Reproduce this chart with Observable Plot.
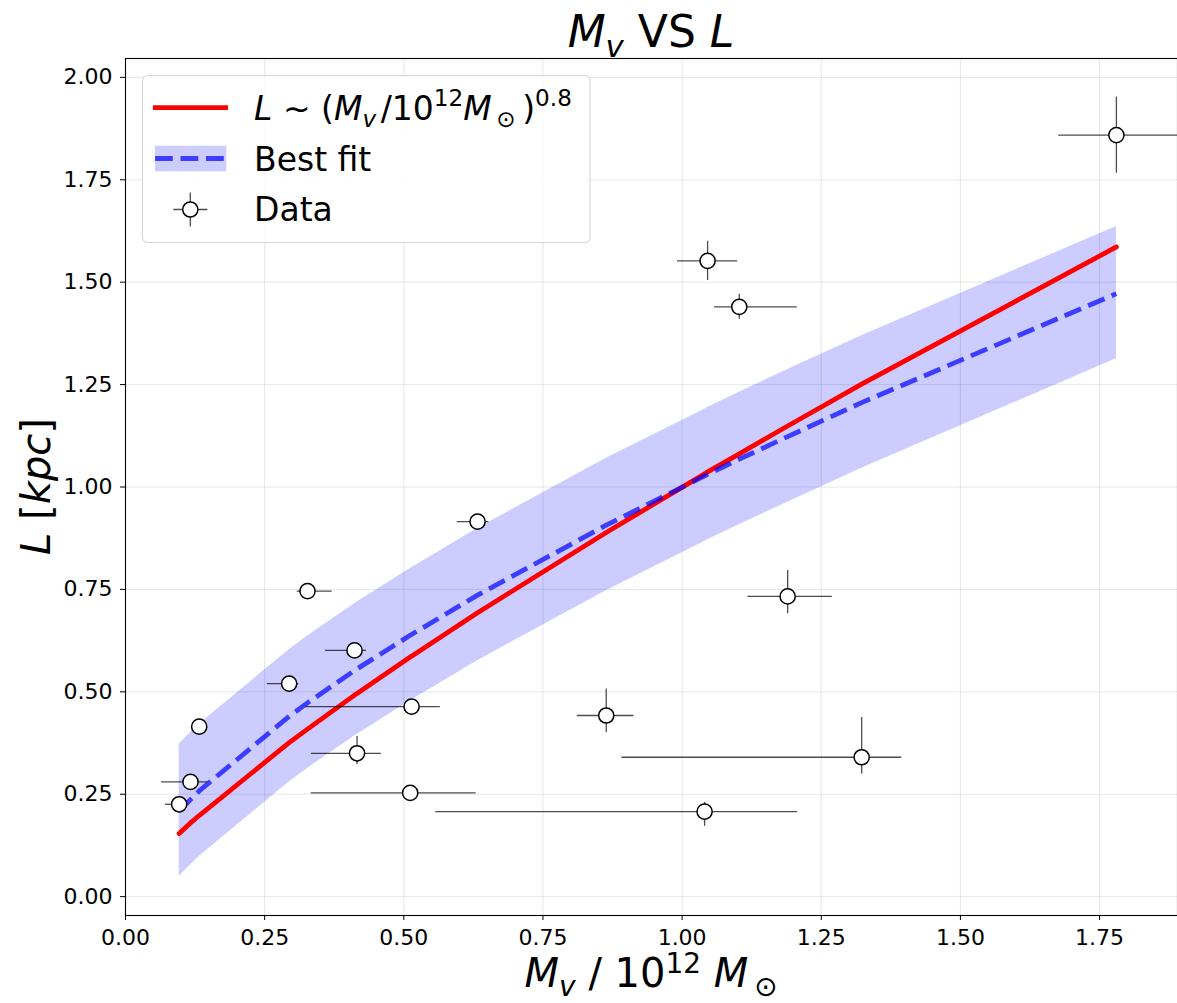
<!DOCTYPE html>
<html>
<head>
<meta charset="utf-8">
<script src="https://cdn.jsdelivr.net/npm/d3@7"></script>
<script src="https://cdn.jsdelivr.net/npm/@observablehq/plot@0.6"></script>
<style>
  body { margin: 0; background: #ffffff; }
  #chart svg { display: block; }
</style>
</head>
<body>
<div id="chart"></div>
<script>
// ---------------- data ----------------
const massX   = [0.0964, 0.1168, 0.1324, 0.294, 0.327, 0.4115, 0.416, 0.514, 0.5115, 0.6325, 0.8637, 1.0404, 1.0458, 1.1027, 1.1896, 1.3226, 1.7802];
const lengthY = [0.2255, 0.280, 0.415, 0.520, 0.746, 0.601, 0.350, 0.464, 0.2533, 0.9155, 0.4422, 0.2077, 1.552, 1.4398, 0.733, 0.3403, 1.859];
const xErrLow  = [0.0246, 0.052, 0.005, 0.039, 0.0185, 0.052, 0.082, 0.190, 0.178, 0.0365, 0.052, 0.483, 0.054, 0.0444, 0.0713, 0.4307, 0.1037];
const xErrHigh = [0.010, 0.031, 0.005, 0.0174, 0.0444, 0.0216, 0.0437, 0.0516, 0.1186, 0.0203, 0.0498, 0.167, 0.054, 0.104, 0.0803, 0.072, 0.140];
const yErrLow  = [0.012, 0.012, 0.010, 0.012, 0.012, 0.012, 0.0276, 0.012, 0.012, 0.012, 0.042, 0.036, 0.048, 0.0305, 0.0423, 0.041, 0.093];
const yErrHigh = [0.012, 0.012, 0.010, 0.012, 0.012, 0.012, 0.041, 0.012, 0.012, 0.012, 0.065, 0.0227, 0.048, 0.0305, 0.0635, 0.097, 0.093];

// model curves, evaluated at the sorted data masses
const curveX    = [0.0964, 0.1168, 0.1324, 0.294, 0.327, 0.4115, 0.416, 0.5115, 0.514, 0.6325, 0.8637, 1.0404, 1.0458, 1.1027, 1.1896, 1.3226, 1.7802];
const powerLaw  = [0.154, 0.180, 0.198, 0.376, 0.409, 0.492, 0.496, 0.585, 0.587, 0.693, 0.889, 1.032, 1.037, 1.081, 1.149, 1.251, 1.586];
const bestFit   = [0.209, 0.237, 0.258, 0.440, 0.473, 0.552, 0.556, 0.638, 0.640, 0.736, 0.907, 1.027, 1.031, 1.068, 1.123, 1.206, 1.472];
const bandLow   = [0.049, 0.077, 0.098, 0.280, 0.313, 0.392, 0.396, 0.478, 0.480, 0.576, 0.747, 0.867, 0.871, 0.908, 0.963, 1.046, 1.313];
const bandHigh  = [0.372, 0.401, 0.421, 0.603, 0.636, 0.715, 0.719, 0.801, 0.803, 0.899, 1.070, 1.190, 1.194, 1.231, 1.287, 1.369, 1.636];

const xTicks = [0, 0.25, 0.5, 0.75, 1.0, 1.25, 1.5, 1.75];
const yTicks = [0, 0.25, 0.5, 0.75, 1.0, 1.25, 1.5, 1.75, 2.0];

// ---------------- tables ----------------
const points = massX.map((x, i) => ({
  x, y: lengthY[i],
  x1: x - xErrLow[i], x2: x + xErrHigh[i],
  y1: lengthY[i] - yErrLow[i], y2: lengthY[i] + yErrHigh[i]
}));
const curve = curveX.map((x, i) => ({x, law: powerLaw[i], fit: bestFit[i], lo: bandLow[i], hi: bandHigh[i]}));

const W = 1177, H = 1003;
const FONT = "DejaVu Sans";
const lw = 4.8, dash = "17.8,7.7";

const chart = Plot.plot({
  width: W, height: H,
  marginLeft: 125, marginRight: 0, marginTop: 58, marginBottom: 88,
  style: {fontFamily: FONT, fontSize: "22px", color: "black", background: "white", overflow: "visible"},
  x: {domain: [0, 1.89], label: null},
  y: {domain: [-0.046, 2.046], label: null},
  marks: [
    Plot.gridX(xTicks, {stroke: "#b0b0b0", strokeOpacity: 0.3, strokeWidth: 1}),
    Plot.gridY(yTicks, {stroke: "#b0b0b0", strokeOpacity: 0.3, strokeWidth: 1}),
    Plot.areaY(curve, {x: "x", y1: "lo", y2: "hi", fill: "blue", fillOpacity: 0.2}),
    Plot.line(curve, {x: "x", y: "law", stroke: "red", strokeWidth: lw}),
    Plot.line(curve, {x: "x", y: "fit", stroke: "blue", strokeOpacity: 0.7, strokeWidth: lw, strokeDasharray: dash, strokeLinecap: "butt"}),
    Plot.ruleY(points, {y: "y", x1: "x1", x2: "x2", stroke: "black", strokeOpacity: 0.7, strokeWidth: 1.3, clip: true}),
    Plot.ruleX(points, {x: "x", y1: "y1", y2: "y2", stroke: "black", strokeOpacity: 0.7, strokeWidth: 1.3, clip: true}),
    Plot.dot(points, {x: "x", y: "y", r: 7.6, fill: "white", stroke: "black", strokeWidth: 1.5}),
    Plot.frame({stroke: "black", strokeWidth: 1.1}),
    Plot.axisX(xTicks, {tickFormat: d3.format(".2f"), tickSize: 5, tickPadding: 9, fontSize: 22, label: null}),
    Plot.axisY(yTicks, {tickFormat: d3.format(".2f"), tickSize: 5, tickPadding: 8, fontSize: 22, label: null})
  ]
});
document.getElementById("chart").appendChild(chart);

// ---------------- rich text (mathtext-like) ----------------
const svg = d3.select(chart);
function rich(x, y, parts, size, anchor, rotate, supShift) {
  const t = svg.append("text")
    .attr("x", x).attr("y", y)
    .attr("font-family", FONT)
    .attr("font-size", size)
    .attr("fill", "black")
    .attr("text-anchor", anchor || "start");
  if (rotate) t.attr("transform", `rotate(${rotate},${x},${y})`);
  let cur = 0;
  for (const p of parts) {
    const [txt, o] = p;
    const opt = o || {};
    let target = 0, fs = size;
    if (opt.sub) { target = 0.22 * size; fs = 0.7 * size; }
    if (opt.sup) { target = -(supShift || 0.43) * size; fs = 0.7 * size; }
    t.append("tspan")
      .attr("dy", target - cur)
      .attr("font-size", fs)
      .attr("font-style", opt.i ? "italic" : "normal")
      .style("white-space", "pre")
      .text(txt);
    cur = target;
  }
  return t;
}

// title
rich(651, 47, [["M", {i: true}], ["v", {i: true, sub: true}], [" VS "], ["L", {i: true}]], 44, "middle");
// x label
rich(651, 987, [["M", {i: true}], ["v", {i: true, sub: true}], [" / 10"], ["12", {sup: true}], [" "], ["M", {i: true}], ["\u2009\u2299", {sub: true}]], 40, "middle", 0, 0.34);
// y label
rich(50, 486.5, [["L", {i: true}], [" ["], ["kpc", {i: true}], ["]"]], 40, "middle", -90);

// ---------------- legend ----------------
const lg = svg.append("g");
lg.append("rect").attr("x", 142.5).attr("y", 75.5).attr("width", 447.5).attr("height", 167)
  .attr("rx", 5).attr("fill", "white").attr("fill-opacity", 0.8).attr("stroke", "#d6d6d6").attr("stroke-width", 1.1);
lg.append("line").attr("x1", 153).attr("x2", 228).attr("y1", 107.7).attr("y2", 107.7)
  .attr("stroke", "red").attr("stroke-width", lw);
lg.append("rect").attr("x", 155).attr("y", 145.7).attr("width", 71.3).attr("height", 25.6)
  .attr("fill", "blue").attr("fill-opacity", 0.2);
lg.append("line").attr("x1", 155).attr("x2", 226.3).attr("y1", 158.5).attr("y2", 158.5)
  .attr("stroke", "blue").attr("stroke-opacity", 0.7).attr("stroke-width", lw).attr("stroke-dasharray", dash);
lg.append("line").attr("x1", 173.3).attr("x2", 207.3).attr("y1", 209.5).attr("y2", 209.5)
  .attr("stroke", "black").attr("stroke-opacity", 0.7).attr("stroke-width", 1.3);
lg.append("line").attr("x1", 190.3).attr("x2", 190.3).attr("y1", 192.5).attr("y2", 226.5)
  .attr("stroke", "black").attr("stroke-opacity", 0.7).attr("stroke-width", 1.3);
lg.append("circle").attr("cx", 190.3).attr("cy", 209.5).attr("r", 7.6)
  .attr("fill", "white").attr("stroke", "black").attr("stroke-width", 1.5);

rich(254, 120, [["L", {i: true}], [" \u223C ("], ["M", {i: true}], ["v\u2009", {i: true, sub: true}], ["/10"], ["12", {sup: true}], ["M", {i: true}], ["\u2009\u2299", {sub: true}], ["\u2009)"], ["0.8", {sup: true}]], 33, "start");
rich(254, 170.5, [["Best fit"]], 33, "start");
rich(254, 220.5, [["Data"]], 33, "start");
</script>
</body>
</html>
